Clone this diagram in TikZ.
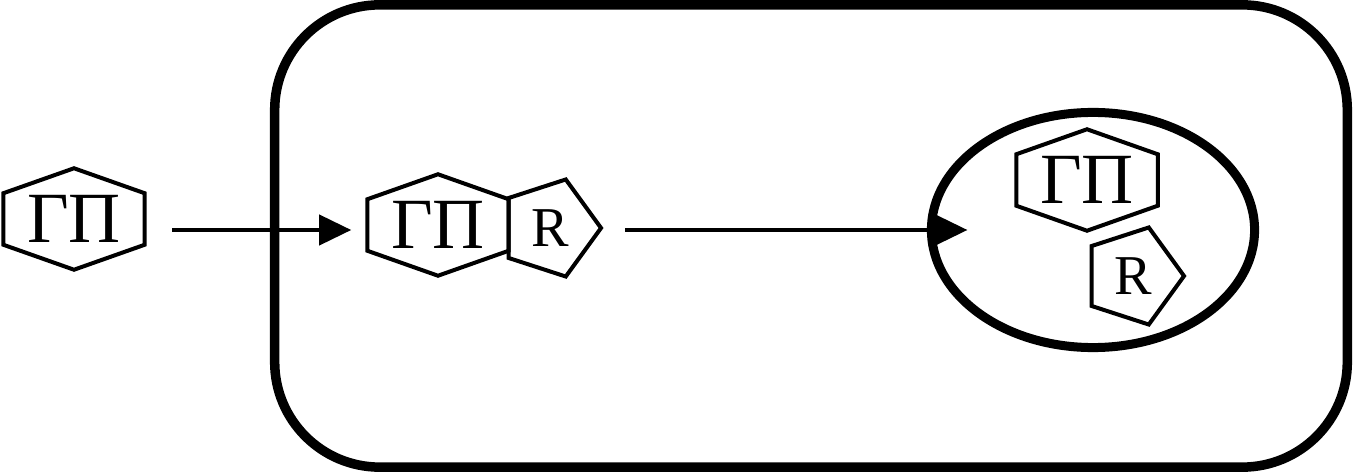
\documentclass[tikz,border=0pt]{standalone}
\usepackage{fontspec}
\setmainfont{Liberation Serif}
\usetikzlibrary{arrows.meta, shapes.geometric, calc}

\begin{document}
\begin{tikzpicture}[
    x=0.01cm, y=-0.01cm,
    frame/.style={draw, line width=0.095cm, rounded corners=1.05cm,
                  minimum width=10.72cm, minimum height=4.62cm},
    cell/.style={draw, ellipse, line width=0.09cm, outer sep=0pt, inner sep=0pt,
                 minimum width=3.23cm, minimum height=2.35cm},
    hexa/.style={inner sep=0pt, minimum width=1.4cm, minimum height=1cm,
                 font=\fontsize{20.5}{24}\selectfont},
    hexline/.style={line width=0.04cm},
    penta/.style={draw, line width=0.04cm, regular polygon, regular polygon sides=5,
                  shape border rotate=-90, minimum size=1.02cm, inner sep=0pt,
                  font=\fontsize{16}{19}\selectfont},
    arr/.style={-{Triangle[length=0.32cm, width=0.30cm]}, line width=0.04cm},
  ]
    \useasboundingbox (0,0) rectangle (1354,473);

    \node[frame] (body) at (811,236) {};
    \node[cell] (cell) at (1093,230) {};

    \node[hexa] (gpA) at (74,219) {ΓΠ};
    \node[hexa] (gpB) at (438,225) {ΓΠ};
    \node[penta] (rB) at (550,228) {R};
    \node[hexa] (gpC) at (1087,180) {ΓΠ};
    \node[penta] (rC) at (1133,276) {R};

    \foreach \h in {gpA,gpB,gpC}
      \draw[hexline] (\h.north) -- ($(\h.north east)+(0,25)$) -- ($(\h.south east)+(0,-25)$)
        -- (\h.south) -- ($(\h.south west)+(0,-25)$) -- ($(\h.north west)+(0,25)$) -- cycle;

    \coordinate (in) at (172,230);
    \coordinate (out) at (625,230);
    \draw[arr, shorten >=0.16cm] (in) -- (in -| gpB.west);
    \draw[arr] (out) -- ([xshift=0.36cm]cell.west);
  \end{tikzpicture}
\end{document}
